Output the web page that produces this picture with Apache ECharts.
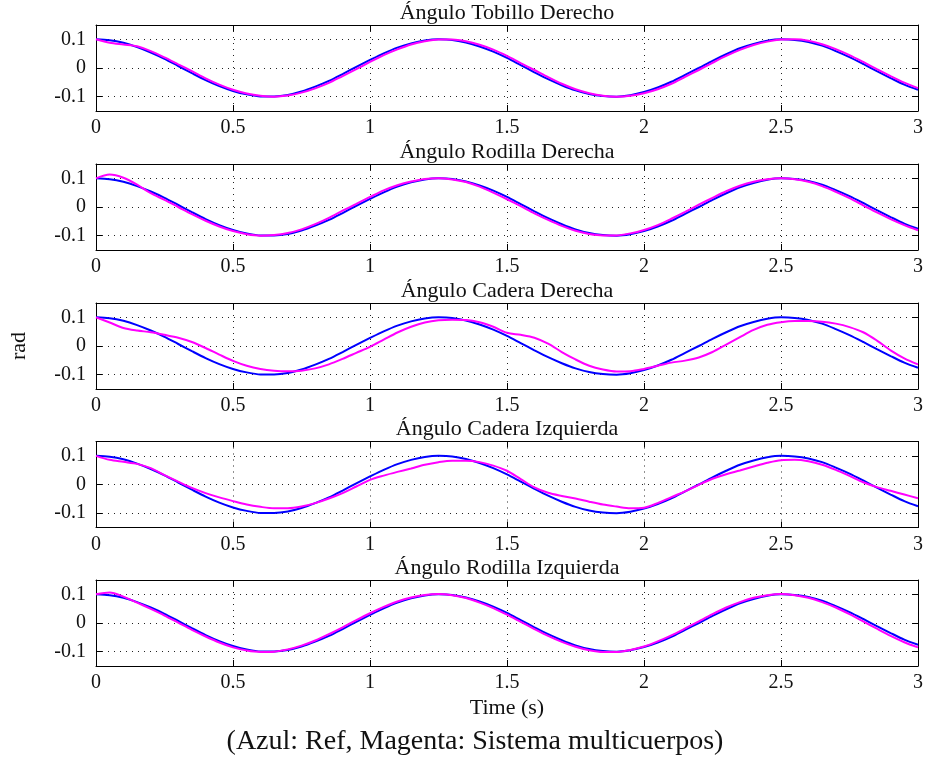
<!DOCTYPE html>
<html><head><meta charset="utf-8">
<script src="https://cdn.jsdelivr.net/npm/echarts@6/dist/echarts.min.js"></script>
<style>html,body{margin:0;padding:0;background:#fff}#c{width:926px;height:760px}</style>
</head><body><div id="c"></div>
<script>
// ---- data ----
const time = [0,0.05,0.1,0.15,0.2,0.25,0.3,0.35,0.4,0.45,
  0.5,0.55,0.6,0.65,0.7,0.75,0.8,0.85,0.9,0.95,
  1.0,1.05,1.1,1.15,1.2,1.25,1.3,1.35,1.4,1.45,
  1.5,1.55,1.6,1.65,1.7,1.75,1.8,1.85,1.9,1.95,
  2.0,2.05,2.1,2.15,2.2,2.25,2.3,2.35,2.4,2.45,
  2.5,2.55,2.6,2.65,2.7,2.75,2.8,2.85,2.9,2.95,3.0];

// Blue reference trajectory (same in every panel)
const ref = [0.100,0.097,0.088,0.073,0.054,0.032,0.007,-0.018,-0.042,-0.063,
  -0.080,-0.092,-0.099,-0.099,-0.094,-0.082,-0.065,-0.045,-0.021,0.004,
  0.028,0.051,0.071,0.086,0.096,0.100,0.098,0.089,0.075,0.057,
  0.035,0.010,-0.015,-0.039,-0.060,-0.078,-0.091,-0.098,-0.100,-0.095,
  -0.084,-0.068,-0.048,-0.024,0.000,0.025,0.048,0.069,0.084,0.095,
  0.100,0.098,0.091,0.078,0.059,0.038,0.014,-0.011,-0.035,-0.058,-0.076];

// Magenta: multibody system
const tobilloDerecho = [0.100,0.088,0.082,0.076,0.059,0.037,0.013,-0.011,-0.036,-0.058,
  -0.076,-0.089,-0.097,-0.100,-0.096,-0.086,-0.071,-0.052,-0.028,-0.004,
  0.021,0.045,0.065,0.082,0.093,0.099,0.099,0.093,0.081,0.064,
  0.042,0.017,-0.007,-0.032,-0.055,-0.074,-0.088,-0.097,-0.100,-0.097,
  -0.088,-0.074,-0.055,-0.031,-0.007,0.018,0.042,0.063,0.080,0.092,
  0.099,0.100,0.095,0.083,0.066,0.045,0.021,-0.004,-0.028,-0.051,-0.070];

const rodillaDerecha = [0.100,0.113,0.102,0.078,0.048,0.025,0.000,-0.025,-0.048,-0.068,
  -0.084,-0.095,-0.100,-0.098,-0.091,-0.078,-0.060,-0.038,-0.013,0.011,
  0.035,0.058,0.076,0.089,0.098,0.100,0.096,0.087,0.071,0.050,
  0.027,0.003,-0.022,-0.045,-0.066,-0.083,-0.094,-0.099,-0.099,-0.092,
  -0.080,-0.063,-0.041,-0.017,0.008,0.032,0.055,0.074,0.088,0.097,
  0.100,0.097,0.088,0.073,0.053,0.031,0.006,-0.019,-0.042,-0.063,-0.081];

const caderaDerecha = [0.100,0.082,0.063,0.054,0.048,0.039,0.029,0.014,-0.007,-0.030,
  -0.052,-0.069,-0.080,-0.086,-0.088,-0.086,-0.078,-0.064,-0.045,-0.024,
  -0.003,0.022,0.047,0.067,0.082,0.090,0.092,0.091,0.083,0.067,
  0.046,0.039,0.029,0.008,-0.021,-0.047,-0.069,-0.082,-0.089,-0.088,
  -0.080,-0.069,-0.058,-0.051,-0.040,-0.021,0.005,0.031,0.056,0.074,
  0.083,0.087,0.087,0.085,0.078,0.066,0.048,0.019,-0.015,-0.043,-0.064];

const caderaIzquierda = [0.100,0.086,0.079,0.072,0.057,0.033,0.010,-0.012,-0.030,-0.045,
  -0.058,-0.070,-0.078,-0.083,-0.083,-0.077,-0.065,-0.049,-0.030,-0.007,
  0.016,0.031,0.044,0.056,0.069,0.078,0.083,0.083,0.078,0.066,
  0.048,0.019,-0.010,-0.029,-0.040,-0.049,-0.060,-0.070,-0.077,-0.083,
  -0.081,-0.065,-0.044,-0.024,-0.001,0.020,0.036,0.049,0.063,0.076,
  0.085,0.086,0.081,0.069,0.051,0.030,0.008,-0.009,-0.022,-0.035,-0.048];

const rodillaIzquierda = [0.100,0.106,0.092,0.071,0.049,0.026,0.001,-0.024,-0.047,-0.068,
  -0.085,-0.096,-0.101,-0.100,-0.092,-0.079,-0.061,-0.039,-0.015,0.010,
  0.034,0.056,0.075,0.089,0.098,0.101,0.097,0.087,0.071,0.052,
  0.029,0.004,-0.021,-0.045,-0.066,-0.083,-0.095,-0.101,-0.101,-0.094,
  -0.082,-0.064,-0.043,-0.019,0.006,0.031,0.054,0.073,0.088,0.097,
  0.101,0.097,0.088,0.073,0.054,0.031,0.006,-0.020,-0.045,-0.067,-0.085];

const panelTitles = ['Ángulo Tobillo Derecho','Ángulo Rodilla Derecha','Ángulo Cadera Derecha',
  'Ángulo Cadera Izquierda','Ángulo Rodilla Izquierda'];
const panelData = [tobilloDerecho, rodillaDerecha, caderaDerecha, caderaIzquierda, rodillaIzquierda];
const yTicks = [-0.1, 0, 0.1];
const xLabel = 'Time (s)';
const yLabel = 'rad';
const caption = '(Azul: Ref, Magenta: Sistema multicuerpos)';

// ---- layout ----
const FF = '"Liberation Serif","Times New Roman",serif';
const tops = [25, 164, 303, 441.5, 580];
const L = 96, W = 822, H = 86;
const ink = '#111';
const dotted = {color: '#222', type: [1, 5], width: 1};

const grid = [], xAxis = [], yAxis = [], series = [], graphic = [];
tops.forEach((top, i) => {
  grid.push({left: L, top: top, width: W, height: H, containLabel: false});
});
// bottom x axes (0..4)
tops.forEach((top, i) => {
  xAxis.push({type: 'value', gridIndex: i, position: 'bottom', min: 0, max: 3, interval: 0.5,
    axisLine: {show: true, onZero: false, lineStyle: {color: '#000', width: 1}},
    axisTick: {show: true, inside: true, length: 6, lineStyle: {color: '#000'}},
    axisLabel: {color: ink, fontFamily: FF, fontSize: 20, margin: 7,
      formatter: v => String(+v.toFixed(1))},
    splitLine: {show: true, lineStyle: dotted}});
});
// top x axes (5..9)
tops.forEach((top, i) => {
  xAxis.push({type: 'value', gridIndex: i, position: 'top', min: 0, max: 3, interval: 0.5,
    axisLine: {show: true, onZero: false, lineStyle: {color: '#000', width: 1}},
    axisTick: {show: true, inside: true, length: 6, lineStyle: {color: '#000'}},
    axisLabel: {show: false}, splitLine: {show: false}});
});
// left y axes (0..4)
tops.forEach((top, i) => {
  yAxis.push({type: 'value', gridIndex: i, position: 'left', min: -0.15, max: 0.15,
    axisLine: {show: true, onZero: false, lineStyle: {color: '#000', width: 1}},
    axisTick: {show: true, inside: true, length: 6, lineStyle: {color: '#000'}, customValues: yTicks},
    axisLabel: {color: ink, fontFamily: FF, fontSize: 20, margin: 10, customValues: yTicks,
      formatter: v => String(+(+v).toFixed(1))},
    splitLine: {show: true, lineStyle: dotted}});
});
// right y axes (5..9)
tops.forEach((top, i) => {
  yAxis.push({type: 'value', gridIndex: i, position: 'right', min: -0.15, max: 0.15,
    axisLine: {show: true, onZero: false, lineStyle: {color: '#000', width: 1}},
    axisTick: {show: true, inside: true, length: 6, lineStyle: {color: '#000'}, customValues: yTicks},
    axisLabel: {show: false, customValues: yTicks}, splitLine: {show: false}});
});

panelData.forEach((arr, i) => {
  series.push({type: 'line', xAxisIndex: i, yAxisIndex: i, showSymbol: false, smooth: 0.3,
    silent: true, animation: false, clip: true,
    lineStyle: {color: '#0000ff', width: 2}, itemStyle: {color: '#0000ff'},
    data: time.map((t, k) => [t, ref[k]])});
  series.push({type: 'line', xAxisIndex: i, yAxisIndex: i, showSymbol: false, smooth: 0.3,
    silent: true, animation: false, clip: true,
    lineStyle: {color: '#ff00ff', width: 2}, itemStyle: {color: '#ff00ff'},
    data: time.map((t, k) => [t, arr[k]])});
  graphic.push({type: 'text', x: L + W / 2, y: tops[i] - 1, silent: true,
    style: {text: panelTitles[i], fill: ink, font: '22px ' + FF, align: 'center', verticalAlign: 'bottom'}});
});
graphic.push({type: 'text', x: 19, y: 346, rotation: Math.PI / 2, silent: true,
  style: {text: yLabel, fill: ink, font: '22px ' + FF, align: 'center', verticalAlign: 'middle'}});
graphic.push({type: 'text', x: L + W / 2, y: 708, silent: true,
  style: {text: xLabel, fill: ink, font: '22px ' + FF, align: 'center', verticalAlign: 'middle'}});
graphic.push({type: 'text', x: 475, y: 742, silent: true,
  style: {text: caption, fill: ink, font: '28px ' + FF, align: 'center', verticalAlign: 'middle'}});

const chart = echarts.init(document.getElementById('c'), null, {renderer: 'canvas'});
chart.setOption({backgroundColor: '#fff', animation: false, grid, xAxis, yAxis, series, graphic});
</script>
</body></html>
